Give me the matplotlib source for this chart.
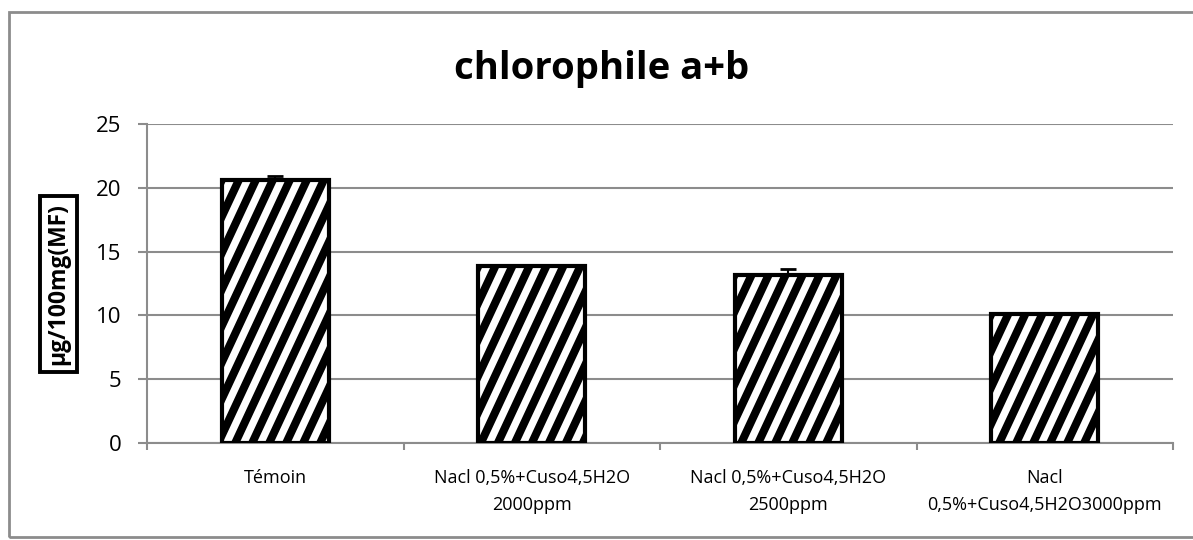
import matplotlib
matplotlib.use('Agg')
import matplotlib.pyplot as plt
import numpy as np
from matplotlib.lines import Line2D
from matplotlib.patches import Rectangle
from matplotlib.transforms import IdentityTransform

plt.rcParams['font.family'] = ['Open Sans', 'DejaVu Sans']

categories = ['Témoin', 'Nacl 0,5%+Cuso4,5H2O\n2000ppm',
              'Nacl 0,5%+Cuso4,5H2O\n2500ppm', 'Nacl\n0,5%+Cuso4,5H2O3000ppm']
values = [20.6, 13.85, 13.2, 10.1]
errors = [0.35, 0.05, 0.4, 0.1]
yticks = [0, 5, 10, 15, 20, 25]

grey = '#8c8c8c'

fig = plt.figure(figsize=(11.93, 5.40), dpi=100)
ax = fig.add_axes([147/1193, 97/540, 1026/1193, 319/540])

x = np.arange(len(categories))
ax.set_xlim(-0.5, len(categories) - 0.5)
ax.set_ylim(0, 25)

# bars (white fill), stripes added below
bars = ax.bar(x, values, width=0.417, color='white', edgecolor='none', zorder=2)
ax.bar(x, values, width=0.417, fill=False, edgecolor='black', linewidth=3, zorder=4)
ax.errorbar(x, values, yerr=[np.zeros(len(errors)), errors], fmt='none',
            ecolor='black', elinewidth=1.5, capsize=6, capthick=2, zorder=5)

# diagonal stripes, clipped to each bar
angle = np.deg2rad(65)
period = 17
for b in bars:
    (x0, y0), (x1, y1) = ax.transData.transform([(b.get_x(), 0), (b.get_x() + b.get_width(), b.get_height())])
    h = y1 - y0
    dx = h / np.tan(angle)
    for c in np.arange(x0 - dx - period, x1 + period, period):
        ln = Line2D([c, c + dx], [y0, y1], color='black', linewidth=5.8,
                    transform=IdentityTransform(), zorder=3, solid_capstyle='butt')
        ln.set_clip_path(b)
        fig.add_artist(ln)

ax.set_yticks(yticks)
ax.yaxis.grid(True, color=grey, linewidth=1.5)
ax.set_axisbelow(True)
ax.set_xticks(np.arange(len(categories) + 1) - 0.5)
ax.set_xticklabels([])
ax.set_xticks(x, minor=True)
ax.set_xticklabels(categories, minor=True, fontsize=13, linespacing=1.6)
ax.tick_params(axis='x', which='minor', length=0, pad=19)
ax.tick_params(axis='x', which='major', length=5, color=grey, width=1.5)
ax.tick_params(axis='y', length=6.5, color=grey, width=1.5, labelsize=16, pad=12)

for s in ['top', 'right']:
    ax.spines[s].set_visible(False)
for s in ['left', 'bottom']:
    ax.spines[s].set_color(grey)
    ax.spines[s].set_linewidth(1.5)

fig.text(602/1193, 1 - 79/540, 'chlorophile a+b', fontsize=27.5, fontweight='bold',
         ha='center', va='baseline')
fig.text(58.5/1193, 1 - 284/540, 'µg/100mg(MF)', fontsize=16.5, fontweight='bold',
         rotation=90, ha='center', va='center',
         bbox=dict(boxstyle='square,pad=0.3', facecolor='white', edgecolor='black', linewidth=2.8))

fig.add_artist(Rectangle((9/1193, 3/540), 1200/1193, 525/540, transform=fig.transFigure,
                         fill=False, edgecolor=grey, linewidth=2))

fig.savefig('out.png', dpi=100)
